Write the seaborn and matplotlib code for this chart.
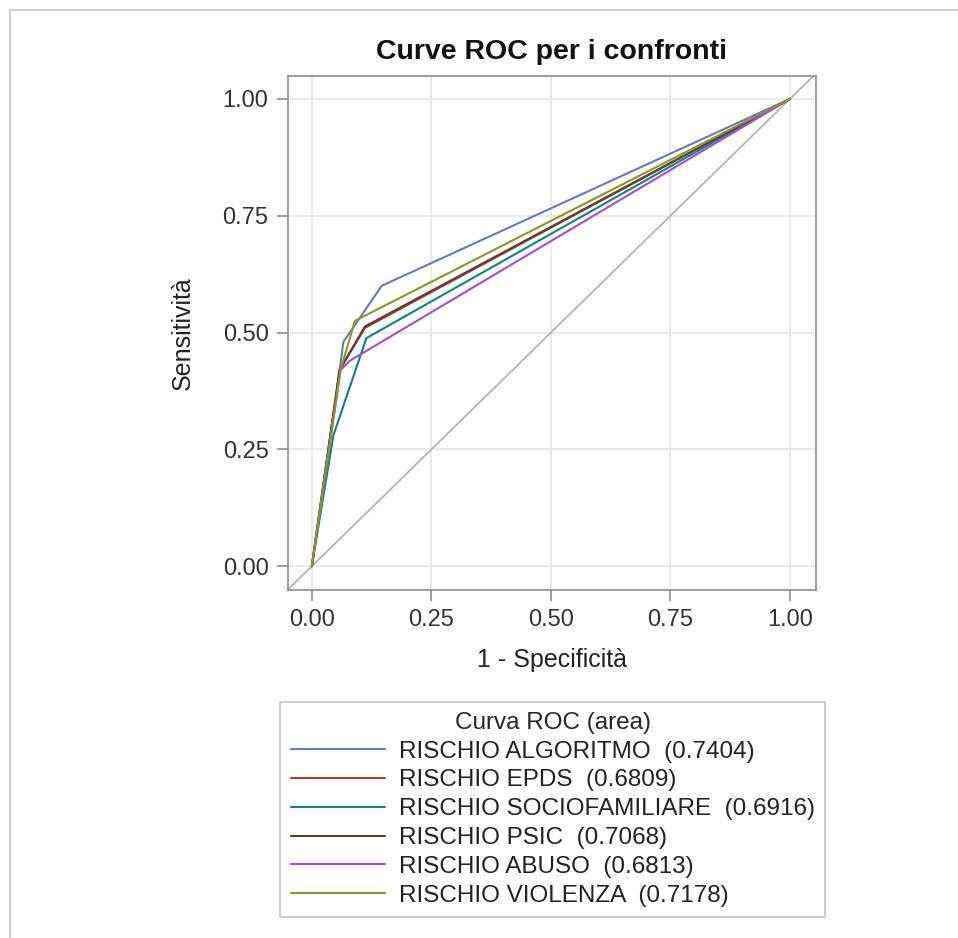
import numpy as np
import pandas as pd
import matplotlib
matplotlib.use("Agg")
import matplotlib.pyplot as plt
from matplotlib.lines import Line2D
import seaborn as sns

# curve ROC (1 - specificità, sensitività)
nomi = ["RISCHIO ALGORITMO", "RISCHIO EPDS", "RISCHIO SOCIOFAMILIARE",
        "RISCHIO PSIC", "RISCHIO ABUSO", "RISCHIO VIOLENZA"]
aree = [0.7404, 0.6809, 0.6916, 0.7068, 0.6813, 0.7178]

fpr_algoritmo = [0.0, 0.058, 0.066, 0.146, 1.0]
tpr_algoritmo = [0.0, 0.42, 0.48, 0.60, 1.0]
fpr_epds = [0.0, 0.058, 0.111, 1.0]
tpr_epds = [0.0, 0.42, 0.51, 1.0]
fpr_socio = [0.0, 0.045, 0.114, 1.0]
tpr_socio = [0.0, 0.28, 0.488, 1.0]
fpr_psic = [0.0, 0.058, 0.111, 1.0]
tpr_psic = [0.0, 0.42, 0.513, 1.0]
fpr_abuso = [0.0, 0.06, 0.08, 1.0]
tpr_abuso = [0.0, 0.42, 0.44, 1.0]
fpr_violenza = [0.0, 0.06, 0.09, 1.0]
tpr_violenza = [0.0, 0.42, 0.525, 1.0]

colori = ["#6c78b8", "#a83c3c", "#16807a", "#5c4028", "#9d4ee0", "#8c9430"]

fpr_tutti = [fpr_algoritmo, fpr_epds, fpr_socio, fpr_psic, fpr_abuso, fpr_violenza]
tpr_tutti = [tpr_algoritmo, tpr_epds, tpr_socio, tpr_psic, tpr_abuso, tpr_violenza]

righe = []
for nome, area, xs, ys in zip(nomi, aree, fpr_tutti, tpr_tutti):
    etichetta = f"{nome}  ({area:.4f})"
    for i, (x, y) in enumerate(zip(xs, ys)):
        righe.append({"curva": etichetta, "ordine": i, "fpr": x, "tpr": y})
df = pd.DataFrame(righe)
etichette = [f"{n}  ({a:.4f})" for n, a in zip(nomi, aree)]

sns.set_style("white")
plt.rcParams["font.family"] = ["Liberation Sans", "DejaVu Sans"]

fig = plt.figure(figsize=(9.58, 9.38), dpi=100)
ax = fig.add_axes([0.3006, 0.371, 0.551, 0.548])

lim = (-0.05, 1.054)
ax.plot(lim, lim, color="#b4b4b4", lw=1.3, zorder=1)

sns.lineplot(data=df, x="fpr", y="tpr", hue="curva", hue_order=etichette,
             palette=colori, sort=False, estimator=None, units="curva",
             lw=1.5, ax=ax, legend=False, zorder=3)

ax.set_xlim(lim)
ax.set_ylim(-0.051, 1.049)
ticks = [0, 0.25, 0.5, 0.75, 1.0]
ax.set_xticks(ticks)
ax.set_yticks(ticks)
ax.set_xticklabels([f"{t:.2f}" for t in ticks])
ax.set_yticklabels([f"{t:.2f}" for t in ticks])
ax.grid(True, color="#e6e6e6", lw=1.2, zorder=0)
ax.set_axisbelow(True)
for s in ax.spines.values():
    s.set_color("#8c8c8c")
    s.set_linewidth(1.2)
ax.tick_params(axis="both", direction="out", length=8, width=1.2,
               color="#8c8c8c", labelsize=17, labelcolor="#333333", pad=6)
ax.tick_params(axis="x", top=False, bottom=True)
ax.tick_params(axis="y", right=False, left=True)

ax.set_xlabel("1 - Specificità", fontsize=18, color="#222222", labelpad=12)
ax.set_ylabel("Sensitività", fontsize=18, color="#222222", labelpad=20)
ax.set_title("Curve ROC per i confronti", fontsize=20.5, fontweight="bold",
             color="#111111", pad=12)

maniglie = [Line2D([0], [0], color=c, lw=1.5) for c in colori]
leg = fig.legend(maniglie, etichette, title="Curva ROC (area)",
                 loc="upper center", bbox_to_anchor=(0.577, 0.252),
                 frameon=True, fancybox=False, fontsize=17.5,
                 title_fontsize=17.5, handlelength=3.9, handletextpad=0.55,
                 labelspacing=0.28, borderpad=0.42, borderaxespad=0)
leg.get_frame().set_edgecolor("#b4b4b4")
leg.get_frame().set_linewidth(1.2)
for t in leg.get_texts():
    t.set_color("#222222")

# cornice esterna (solo bordo sinistro e superiore)
fig.add_artist(Line2D([0.0105, 0.0105], [0.0, 0.989], color="#d2d2d2", lw=1.5))
fig.add_artist(Line2D([0.0105, 1.0], [0.989, 0.989], color="#d2d2d2", lw=1.5))

fig.savefig("out.png", dpi=100, facecolor="white")
